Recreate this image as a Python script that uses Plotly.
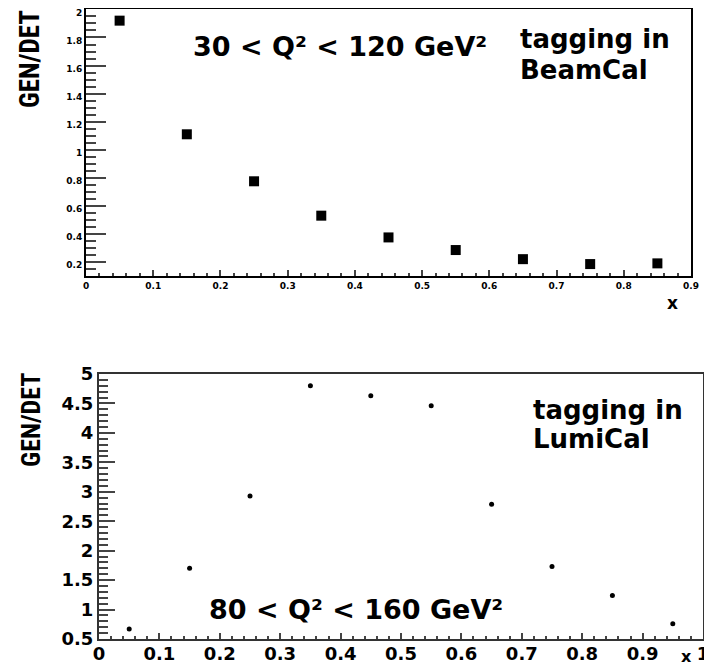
import plotly.graph_objects as go

# Top panel: tagging in BeamCal, 30 < Q^2 < 120 GeV^2
x_beamcal = [0.05, 0.15, 0.25, 0.35, 0.45, 0.55, 0.65, 0.75, 0.85]
y_beamcal = [1.92, 1.11, 0.775, 0.53, 0.375, 0.285, 0.22, 0.185, 0.19]

# Bottom panel: tagging in LumiCal, 80 < Q^2 < 160 GeV^2
x_lumical = [0.05, 0.15, 0.25, 0.35, 0.45, 0.55, 0.65, 0.75, 0.85, 0.95]
y_lumical = [0.67, 1.70, 2.93, 4.80, 4.63, 4.46, 2.79, 1.73, 1.24, 0.76]

# the page body has an 8px margin, so the figure is drawn at (8, 8)
OFF = 8
W, H = 712 - OFF, 666 - OFF

def px(x):
    return (x - OFF) / W

def py(y):
    return 1 - (y - OFF) / H

fig = go.Figure()
fig.add_trace(go.Scatter(x=x_beamcal, y=y_beamcal, mode="markers",
                         marker=dict(symbol="square", size=10, color="black"),
                         xaxis="x", yaxis="y", showlegend=False))
fig.add_trace(go.Scatter(x=x_lumical, y=y_lumical, mode="markers",
                         marker=dict(symbol="circle", size=5, color="black"),
                         xaxis="x2", yaxis="y2", showlegend=False))

small = dict(family="DejaVu Sans", size=9, color="black", weight="bold")
big = dict(family="DejaVu Sans", size=18, color="black", weight="bold")

fig.update_layout(
    width=W, height=H,
    margin=dict(l=0, r=0, t=0, b=0),
    paper_bgcolor="white", plot_bgcolor="white",
    xaxis=dict(domain=[px(86), px(691)], range=[0, 0.9], anchor="y",
               dtick=0.1, ticks="inside", ticklen=6, tickwidth=1.5,
               minor=dict(dtick=0.02, ticks="inside", ticklen=3, tickwidth=1.5),
               showgrid=False, zeroline=False, showline=True, linewidth=2,
               linecolor="black", mirror=True, tickfont=small, automargin=False,
               ticklabeloverflow="allow"),
    yaxis=dict(domain=[py(276), py(9)], range=[0.1, 2.003], anchor="x",
               tickvals=[0.2, 0.4, 0.6, 0.8, 1.0, 1.2, 1.4, 1.6, 1.8, 2.0],
               ticks="inside", ticklen=20, tickwidth=1.5,
               minor=dict(dtick=0.05, tick0=0, ticks="inside", ticklen=10, tickwidth=1.5),
               showgrid=False, zeroline=False, showline=True, linewidth=2,
               linecolor="black", mirror=True, tickfont=small, automargin=False,
               ticklabeloverflow="allow", ticklabelshift=3),
    xaxis2=dict(domain=[px(99), px(703)], range=[0, 1], anchor="y2",
                dtick=0.1, ticks="inside", ticklen=6, tickwidth=1.5,
                minor=dict(dtick=0.02, ticks="inside", ticklen=3, tickwidth=1.5),
                showgrid=False, zeroline=False, showline=True, linewidth=2,
                linecolor="#333", mirror=True, tickfont=big, automargin=False,
                ticklabelstandoff=-3, ticklabeloverflow="allow"),
    yaxis2=dict(domain=[py(639), py(374)], range=[0.5, 5], anchor="x2",
                dtick=0.5, tick0=0, ticks="inside", ticklen=16, tickwidth=1.5,
                minor=dict(dtick=0.1, ticks="inside", ticklen=9, tickwidth=1.5),
                showgrid=False, zeroline=False, showline=True, linewidth=2,
                linecolor="#333", mirror=True, tickfont=big, ticklabelstandoff=0,
                automargin=False, ticklabeloverflow="allow"),
)

tfont = dict(family="DejaVu Sans", size=26, color="black", weight="bold")
qfont = dict(family="DejaVu Sans", size=27, color="black", weight="bold")
narrow = "Liberation Sans Narrow, Roboto Condensed, Liberation Sans"

annotations = [
    dict(x=px(340), y=py(47), text="30 &lt; Q² &lt; 120 GeV²",
         font=qfont, xanchor="center", yanchor="middle"),
    dict(x=px(518), y=py(39), text="tagging in",
         font=tfont, xanchor="left", yanchor="middle"),
    dict(x=px(518), y=py(70), text="BeamCal",
         font=tfont, xanchor="left", yanchor="middle"),
    dict(x=px(531), y=py(410), text="tagging in",
         font=tfont, xanchor="left", yanchor="middle"),
    dict(x=px(531), y=py(439), text="LumiCal",
         font=tfont, xanchor="left", yanchor="middle"),
    dict(x=px(356), y=py(609), text="80 &lt; Q² &lt; 160 GeV²",
         font=qfont, xanchor="center", yanchor="middle"),
    dict(x=px(30), y=py(59), text="<b>GEN/DET</b>", textangle=-90,
         font=dict(family=narrow, size=27, color="black"),
         xanchor="center", yanchor="middle"),
    dict(x=px(31), y=py(420), text="<b>GEN/DET</b>", textangle=-90,
         font=dict(family=narrow, size=26, color="black"),
         xanchor="center", yanchor="middle"),
    dict(x=px(672), y=py(303), text="x",
         font=dict(family="DejaVu Sans", size=17, color="black", weight="bold"),
         xanchor="center", yanchor="middle"),
    dict(x=px(686), y=py(656), text="x",
         font=dict(family="DejaVu Sans", size=16, color="black", weight="bold"),
         xanchor="center", yanchor="middle"),
]
for a in annotations:
    a.update(xref="paper", yref="paper", showarrow=False)
fig.update_layout(annotations=annotations)

fig.write_html("out.html")
